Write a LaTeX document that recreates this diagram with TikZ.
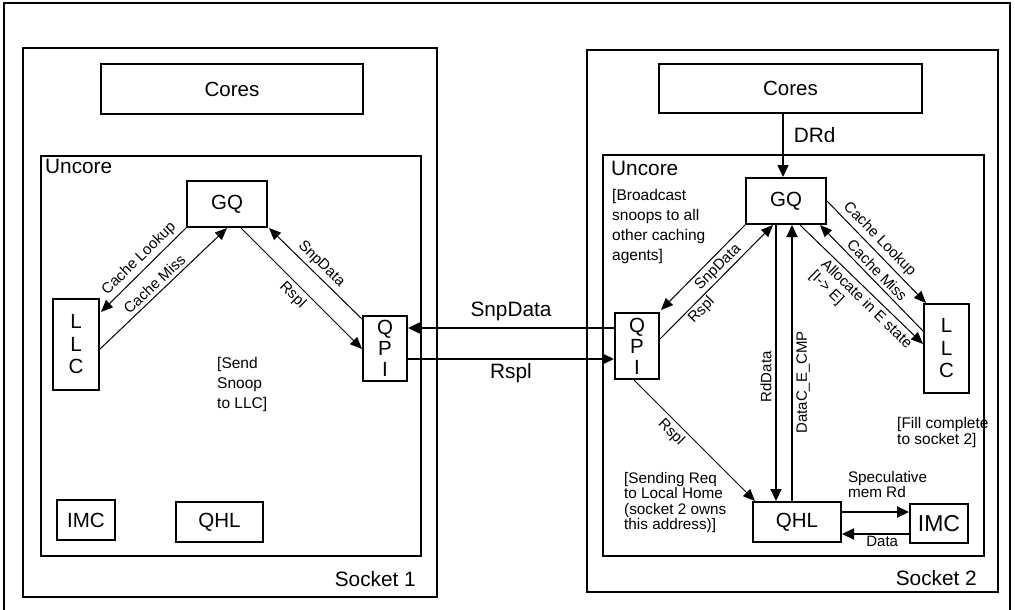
\documentclass[tikz,border=0pt]{standalone}
\usepackage{fontspec}
\setmainfont{Liberation Sans}
\usetikzlibrary{arrows.meta,calc}
\newcommand\boxfont{\fontsize{20.5}{22.5}\selectfont}
\newcommand\imcfont{\fontsize{23}{25}\selectfont}
\newcommand\biglblfont{\fontsize{20.8}{23}\selectfont}
\newcommand\lblfont{\fontsize{15}{17}\selectfont}
\newcommand\notefont{\fontsize{15.5}{20}\selectfont}
\newcommand\notefontb{\fontsize{15.5}{16}\selectfont}
\newcommand\notefontc{\fontsize{15.3}{15.3}\selectfont}
\begin{document}
\begin{tikzpicture}[x=1pt,y=-1pt,
  frame/.style={draw, line width=2pt, inner sep=0pt},
  box/.style={draw, line width=2pt, inner sep=0pt, font=\boxfont, align=center},
  thinarrow/.style={line width=1pt, -{Triangle[length=12pt,width=10pt]}},
  thickarrow/.style={line width=2pt, -{Triangle[length=12pt,width=11pt]}},
  lbl/.style={font=\lblfont, inner sep=3.5pt},
  biglbl/.style={font=\biglblfont, inner sep=2pt},
  note/.style={align=left, inner sep=0pt, anchor=base west}]
\useasboundingbox (0,0) rectangle (1015,610);
% outer frame
\draw[line width=2pt] (4,614) -- (4,3) -- (1010,3) -- (1010,614);

% ---------------- Socket 1 ----------------
\node[frame, minimum width=414pt, minimum height=549pt] (sock1) at (230,322.5) {};
\node[frame, minimum width=380pt, minimum height=400pt] (unc1) at (231,356) {};
\node[biglbl, inner sep=0pt, anchor=base west] (unc1lbl) at ($(unc1.north west)+(5,18)$) {Uncore};
\node[biglbl, inner sep=0pt, anchor=base east] (sock1lbl) at ($(sock1.south east)+(-22,-12)$) {Socket 1};
\node[box, minimum width=262pt, minimum height=50pt] (cores1) at (232,89) {Cores};
\node[box, minimum width=80pt, minimum height=46pt] (gq1) at (227,204) {GQ};
\node[box, minimum width=46pt, minimum height=91pt] (llc1) at (76,344.5) {L\\L\\C};
\node[box, minimum width=44pt, minimum height=65pt, font=\fontsize{20.5}{21}\selectfont] (qpi1) at (385,348.5) {Q\\P\\I};
\node[box, minimum width=58pt, minimum height=40pt] (imc1) at (86,520) {IMC};
\node[box, minimum width=87pt, minimum height=40pt] (qhl1) at (219.5,522) {QHL};
% (anchor base = baseline of the last line)
\node[note, font=\notefont] (snote) at (217,408) {[Send\\Snoop\\to LLC]};

\draw[thinarrow] (gq1.south west) -- node[lbl, sloped, above, pos=0.46] (l1) {Cache Lookup} ($(llc1.north east)+(1,14)$);
\draw[thinarrow] ($(llc1.north east)+(0,51)$) -- node[lbl, sloped, above, pos=0.48] (l2) {Cache Miss} (gq1.south);
\draw[thinarrow] ($(gq1.south)+(14,0)$) -- node[lbl, sloped, below, pos=0.49] (l3) {Rspl} ($(qpi1.north west)+(0,34)$);
\draw[thinarrow] ($(qpi1.north west)+(0,4)$) -- node[lbl, sloped, above, pos=0.52] (l4) {SnpData} ($(gq1.south east)+(1,0)$);

% ---------------- Socket 2 ----------------
\node[frame, minimum width=411pt, minimum height=542pt] (sock2) at (792.5,321) {};
\node[frame, minimum width=381pt, minimum height=401pt] (unc2) at (793.5,355.5) {};
\node[biglbl, inner sep=0pt, anchor=base west] (unc2lbl) at ($(unc2.north west)+(9,21)$) {Uncore};
\node[biglbl, inner sep=0pt, anchor=base east] (sock2lbl) at ($(sock2.south east)+(-22,-8)$) {Socket 2};
\node[box, minimum width=263pt, minimum height=49pt] (cores2) at (790.5,88.5) {Cores};
\node[box, minimum width=80pt, minimum height=46pt] (gq2) at (786,201) {GQ};
\node[box, minimum width=44pt, minimum height=66pt, font=\fontsize{20.5}{21}\selectfont] (qpi2) at (637,346) {Q\\P\\I};
\node[box, minimum width=45pt, minimum height=89pt] (llc2) at (946.5,348.5) {L\\L\\C};
\node[box, minimum width=88pt, minimum height=40pt] (qhl2) at (797,522) {QHL};
\node[box, minimum width=58pt, minimum height=39pt, font=\imcfont] (imc2) at (939,523.5) {IMC};
\node[note, font=\notefont] (bnote) at (612,260) {[Broadcast\\snoops to all\\other caching\\agents]};
\node[note, font=\notefontb] (fnote) at (897,444) {[Fill complete\\to socket 2]};
\node[note, font=\notefontc] (rnote) at (624,529.5) {[Sending Req\\to Local Home\\(socket 2 owns\\this address)]};

\draw[line width=1.5pt, -{Triangle[length=12pt,width=11pt]}] ($(cores2.south)+(-7.5,0)$) -- node[biglbl, pos=0.34, anchor=west, xshift=8pt] (drd) {DRd} ($(gq2.north)+(-3,0)$);
\draw[thinarrow] (gq2.south west) -- node[lbl, sloped, below, pos=0.41] (m1) {SnpData} ($(qpi2.north east)+(1,-2)$);
\draw[thinarrow] ($(qpi2.north east)+(0,27)$) -- node[lbl, sloped, below, pos=0.31, inner sep=2pt] (m2) {Rspl} ($(gq2.south)+(-13,0)$);
\draw[thickarrow] ($(gq2.south)+(-10,0)$) -- node[lbl, rotate=90, anchor=south, pos=0.55] (m3) {RdData} ($(qhl2.north)+(-21,0)$);
\draw[thickarrow] ($(qhl2.north)+(-5,0)$) -- node[lbl, sloped, below, pos=0.43] (m4) {DataC\_E\_CMP} ($(gq2.south)+(6,0)$);
\draw[thinarrow] ($(gq2.south)+(14,0)$) -- node[lbl, sloped, below, pos=0.6, align=left, font=\fontsize{15}{16}\selectfont] (m5) {Allocate in E state\\{}[I-> E]} ($(llc2.north west)+(0,41)$);
\draw[thinarrow] ($(gq2.north east)+(0,24)$) -- node[lbl, sloped, above, pos=0.45] (m6) {Cache Lookup} ($(llc2.north west)+(3,0)$);
\draw[thinarrow] ($(llc2.north west)+(0,28)$) -- node[lbl, sloped, above, pos=0.51] (m7) {Cache Miss} ($(gq2.south east)+(-7,0)$);
\draw[thinarrow] ($(qpi2.south west)+(20,0)$) -- node[lbl, sloped, below, pos=0.37] (m8) {Rspl} ($(qhl2.north west)+(3,0)$);
\draw[thickarrow] ($(qhl2.north east)+(0,11)$) -- node[note, pos=0, font=\fontsize{15.3}{15}\selectfont, xshift=5pt, yshift=15pt] (m9) {Speculative\\mem Rd} ($(imc2.north west)+(0,9)$);
\draw[thickarrow] ($(imc2.north west)+(0,31)$) -- node[lbl, below, pos=0.4, inner sep=1pt] (m10) {Data} ($(qhl2.north east)+(0,33)$);

% ---------------- between sockets ----------------
\draw[thickarrow] ($(qpi2.north west)+(0,16)$) -- node[biglbl, above=4pt] (x1) {SnpData} ($(qpi1.north east)+(0,13)$);
\draw[thickarrow] ($(qpi1.north east)+(0,44)$) -- node[biglbl, below=1pt] (x2) {Rspl} ($(qpi2.north west)+(0,47)$);
\end{tikzpicture}
\end{document}
